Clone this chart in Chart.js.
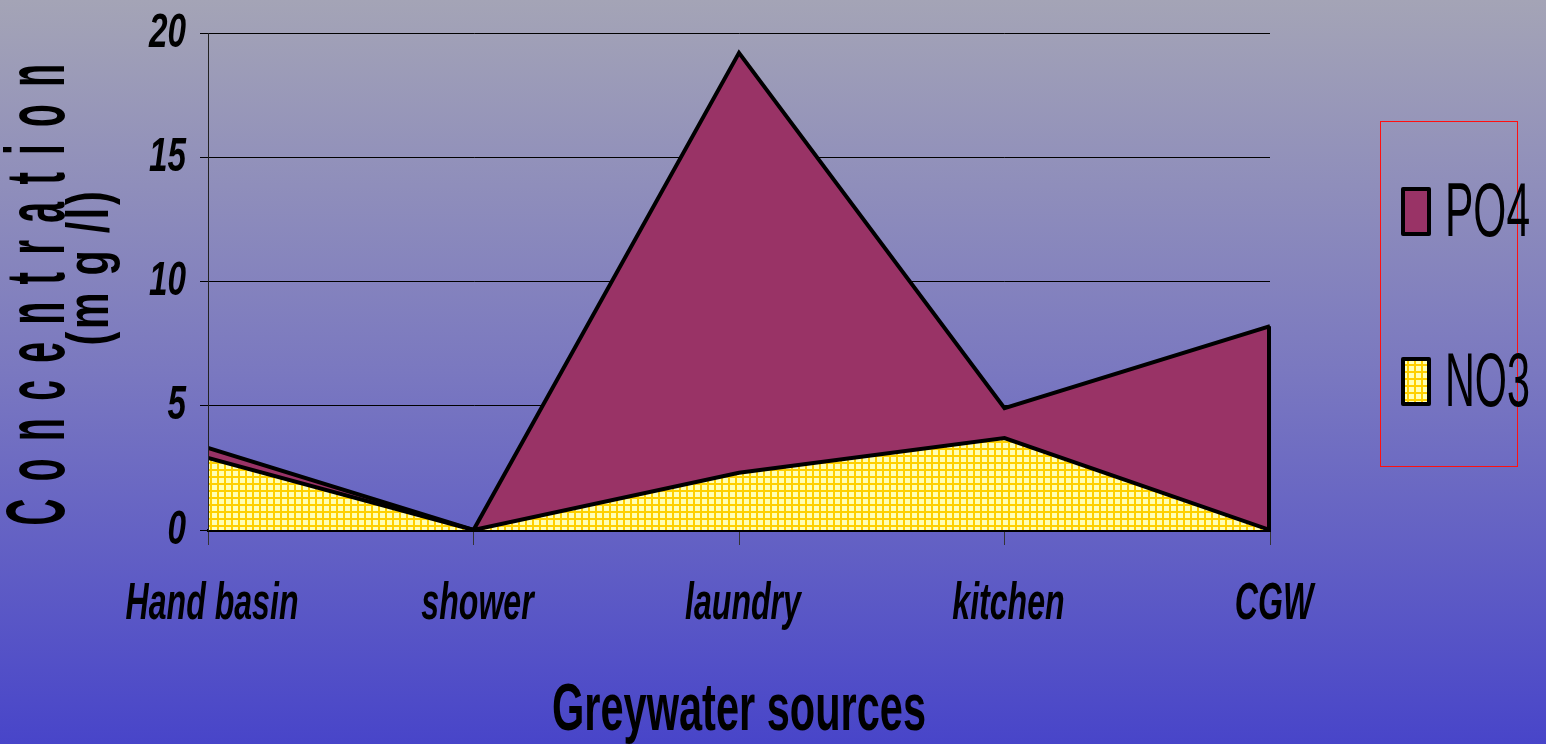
<!DOCTYPE html>
<html><head><meta charset="utf-8">
<script src="https://cdn.jsdelivr.net/npm/chart.js@4"></script>
<style>html,body{margin:0;padding:0;background:#8080c0}#wrap{width:1546px;height:744px;position:relative}</style>
</head><body><div id="wrap"><canvas id="c" width="1546" height="744"></canvas></div>
<script>
const categories = ['Hand basin', 'shower', 'laundry', 'kitchen', 'CGW'];
const po4 = [3.3, 0, 19.2, 4.9, 8.2];
const no3 = [2.9, 0, 2.3, 3.7, 0];
const yTicks = [0, 5, 10, 15, 20];
const seriesNames = ['PO4', 'NO3'];
const xTitle = 'Greywater sources';
const yTitleLines = ['C o n c e n t r a t i o n', '(m g /l)'];

const FAM = '"Liberation Sans", Arial, sans-serif';
const canvas = document.getElementById('c');
const ctx0 = canvas.getContext('2d');

function makePattern() {
  const p = document.createElement('canvas');
  p.width = 7; p.height = 7;
  const g = p.getContext('2d');
  g.fillStyle = '#ffffb4'; g.fillRect(0, 0, 7, 7);
  g.fillStyle = '#ffd000'; g.fillRect(0, 0, 7, 2); g.fillRect(0, 0, 2, 7);
  return ctx0.createPattern(p, 'repeat');
}
const no3Fill = makePattern();
const po4Fill = '#993366';

function sText(ctx, text, x, y, o) {
  ctx.save();
  ctx.font = o.font;
  if (o.spacing && 'letterSpacing' in ctx) ctx.letterSpacing = o.spacing;
  ctx.translate(x, y);
  if (o.rot) ctx.rotate(o.rot);
  let sx = o.sx || 1;
  if (o.width) sx = o.width / ctx.measureText(text).width;
  ctx.scale(sx, 1);
  ctx.textAlign = o.align || 'center';
  ctx.textBaseline = o.baseline || 'alphabetic';
  ctx.fillStyle = o.color || '#000';
  ctx.fillText(text, 0, 0);
  ctx.restore();
}

const deco = {
  id: 'deco',
  beforeDraw(chart) {
    const c = chart.ctx;
    const g = c.createLinearGradient(0, 0, 0, chart.height);
    g.addColorStop(0, '#a4a4b6');
    g.addColorStop(0.5, '#7a78c0');
    g.addColorStop(1, '#4845c9');
    c.save(); c.fillStyle = g; c.fillRect(0, 0, chart.width, chart.height); c.restore();
  },
  afterDatasetsDraw(chart) {
    const c = chart.ctx, a = chart.chartArea;
    const xs = chart.scales.x, ys = chart.scales.y;
    c.save();
    chart.data.datasets.forEach(ds => {
      const last = ds.data.length - 1;
      if (ds.data[last] > 0) {
        c.strokeStyle = '#000'; c.lineWidth = 4; c.lineCap = 'butt';
        c.beginPath();
        c.moveTo(xs.getPixelForValue(last) - 1, ys.getPixelForValue(ds.data[last]));
        c.lineTo(xs.getPixelForValue(last) - 1, ys.getPixelForValue(0));
        c.stroke();
      }
    });
    c.strokeStyle = '#222'; c.lineWidth = 1;
    c.beginPath(); c.moveTo(a.left + 0.5, a.top); c.lineTo(a.left + 0.5, a.bottom); c.stroke();
    c.restore();
  },
  afterDraw(chart) {
    const c = chart.ctx, a = chart.chartArea;
    const xs = chart.scales.x, ys = chart.scales.y;
    yTicks.forEach(v => {
      sText(c, String(v), 186, ys.getPixelForValue(v), {font: 'italic bold 49px ' + FAM, sx: 0.68, align: 'right', baseline: 'middle'});
    });
    c.save(); c.font = 'italic bold 52px ' + FAM;
    const sxX = 173 / c.measureText(categories[0]).width; c.restore();
    categories.forEach((lab, i) => {
      sText(c, lab, xs.getPixelForValue(i) + 4, 619, {font: 'italic bold 52px ' + FAM, sx: sxX});
    });
    sText(c, xTitle, (a.left + a.right) / 2, 730, {font: 'bold 67px ' + FAM, width: 374});
    sText(c, yTitleLines[0], 64, 293, {font: 'bold 84px ' + FAM, width: 465, rot: -Math.PI / 2, spacing: '8px'});
    sText(c, yTitleLines[1], 108, 267, {font: 'bold 60px ' + FAM, width: 157, rot: -Math.PI / 2, spacing: '4px'});
    c.save();
    c.strokeStyle = '#ff1010'; c.lineWidth = 1;
    c.strokeRect(1380.5, 121.5, 137, 345);
    const rows = [{y: 189, base: 236}, {y: 359, base: 406}];
    chart.data.datasets.forEach((ds, i) => {
      const r = rows[i];
      c.fillStyle = ds.backgroundColor;
      c.fillRect(1403, r.y, 26, 45);
      c.strokeStyle = '#000'; c.lineWidth = 4; c.lineJoin = 'round';
      c.strokeRect(1403, r.y, 26, 45);
      sText(c, ds.label, 1445, r.base, {font: '76px ' + FAM, width: 85, align: 'left'});
    });
    c.restore();
  }
};

new Chart(canvas, {
  type: 'line',
  data: {
    labels: categories,
    datasets: [
      {label: seriesNames[0], data: po4, backgroundColor: po4Fill, borderColor: '#000', borderWidth: 4, fill: 'origin', order: 2, pointRadius: 0, tension: 0, clip: 0},
      {label: seriesNames[1], data: no3, backgroundColor: no3Fill, borderColor: '#000', borderWidth: 4, fill: 'origin', order: 1, pointRadius: 0, tension: 0, clip: 0}
    ]
  },
  options: {
    responsive: false,
    animation: false,
    layout: {padding: {left: 0, top: 33, right: 276, bottom: 0}},
    plugins: {legend: {display: false}, tooltip: {enabled: false}},
    scales: {
      x: {
        type: 'category', offset: false, z: 1,
        grid: {display: true, drawOnChartArea: false, drawTicks: true, tickLength: 15, color: '#333', lineWidth: 1},
        border: {display: true, color: '#000', width: 3},
        ticks: {display: false},
        afterFit(s) { s.height = 214; }
      },
      y: {
        min: 0, max: 20,
        ticks: {stepSize: 5, display: false},
        grid: {color: '#000', lineWidth: 1, tickLength: 8},
        border: {display: true, color: '#222', width: 1},
        afterFit(s) { s.width = 208; }
      }
    }
  },
  plugins: [deco]
});
</script>
</body></html>
